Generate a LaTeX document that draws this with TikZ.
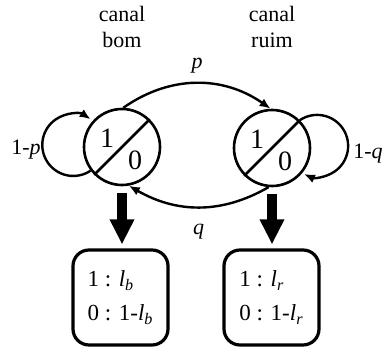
\documentclass[tikz,border=0pt]{standalone}
\usepackage{fontspec}
\setmainfont{Liberation Serif}
\usetikzlibrary{arrows.meta,positioning,calc}

\begin{document}
\begin{tikzpicture}[x=0.5pt,y=0.5pt,>={Latex[length=5.5pt,width=4.5pt]},
  st/.style={draw,circle,line width=1.3pt,minimum size=38pt,inner sep=0pt},
  bx/.style={draw,line width=1.6pt,rounded corners=8pt,minimum width=47.5pt,
             minimum height=47.5pt,inner sep=0pt,align=left,
             font=\fontsize{11.5}{17}\selectfont},
  dig/.style={font=\fontsize{14}{14}\selectfont,inner sep=0pt},
  lb/.style={font=\fontsize{11}{13}\selectfont,inner sep=0pt},
  tr/.style={->,line width=1.2pt},
  big/.style={-{Triangle[length=12.5pt,width=11.5pt]},line width=5pt,
              shorten <=3.5pt,shorten >=2pt}]
  \useasboundingbox (0,0) rectangle (385,354);

  % os dois estados
  \node[st](bom)  at (122,207) {};
  \node[st](ruim) at (272,206) {};
  \draw[line width=1.3pt](bom.225) -- (bom.45);
  \draw[line width=1.3pt](ruim.225) -- (ruim.45);
  \node[dig](bom1)  at ($(bom)+(-15,9)$)   {1};
  \node[dig](bom0)  at ($(bom)+(13,-13)$)  {0};
  \node[dig](ruim1) at ($(ruim)+(-15,9)$)  {1};
  \node[dig](ruim0) at ($(ruim)+(13,-13)$) {0};

  \node[lb,align=center](tbom)  at (122,327) {canal\\bom};
  \node[lb,align=center](truim) at (272,327) {canal\\ruim};

  % transicoes
  \draw[tr](bom.88) to[out=35,in=145]
    node[lb,above=4.5pt](lp){\textit{p}} (ruim.92);
  \draw[tr](ruim.265) to[out=-150,in=-30]
    node[lb,below=8pt](lq){\textit{q}} (bom.280);
  \draw[tr](bom.217) arc[start angle=-56,end angle=-304,radius=31];
  \draw[tr](ruim.45) arc[start angle=124,end angle=-115,radius=31];
  \node[lb,anchor=east](lpp) at (41,204) {1-\textit{p}};
  \node[lb,anchor=west](lqq) at (353,200) {1-\textit{q}};

  % saidas
  \node[bx](sbom)  at (120.5,56.5) {1 : \textit{l}\textsubscript{\textit{b}}\\
                                    0 : 1-\textit{l}\textsubscript{\textit{b}}};
  \node[bx](sruim) at (271.5,56.5) {1 : \textit{l}\textsubscript{\textit{r}}\\
                                    0 : 1-\textit{l}\textsubscript{\textit{r}}};
  \draw[big](bom.south) -- (bom.south |- sbom.north);
  \draw[big](ruim.south) -- (ruim.south |- sruim.north);
\end{tikzpicture}
\end{document}
